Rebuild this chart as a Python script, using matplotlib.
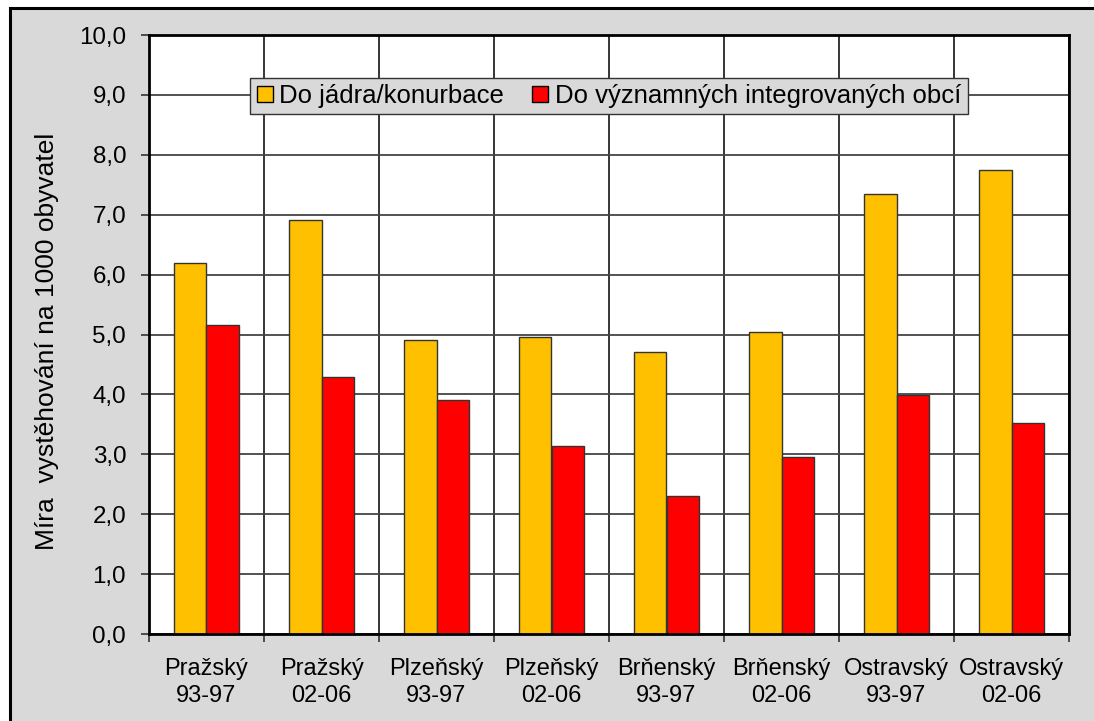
import matplotlib
matplotlib.use("Agg")
import matplotlib.pyplot as plt
from matplotlib.patches import Rectangle
from matplotlib.ticker import FixedLocator, FuncFormatter

categories = ["Pražský\n93-97", "Pražský\n02-06", "Plzeňský\n93-97", "Plzeňský\n02-06",
              "Brňenský\n93-97", "Brňenský\n02-06", "Ostravský\n93-97", "Ostravský\n02-06"]
core_values = [6.19, 6.91, 4.91, 4.96, 4.71, 5.04, 7.35, 7.75]
municip_values = [5.16, 4.29, 3.91, 3.14, 2.30, 2.95, 3.99, 3.52]
series_names = ["Do jádra/konurbace", "Do významných integrovaných obcí"]
y_ticks = [0, 1, 2, 3, 4, 5, 6, 7, 8, 9, 10]

plt.rcParams["font.family"] = ["Liberation Sans", "DejaVu Sans"]

W, H = 1094, 721
fig = plt.figure(figsize=(W / 100, H / 100), dpi=100)
fig.patch.set_facecolor("white")

# framed gray chart area
fig.patches.append(Rectangle((10 / W, -0.05), 1.1, (H - 8) / H + 0.05,
                             transform=fig.transFigure, facecolor="#d9d9d9",
                             edgecolor="black", linewidth=2.2, zorder=-5))

left, right, top, bottom = 149, 1069, 35, 634
ax = fig.add_axes([left / W, 1 - bottom / H, (right - left) / W, (bottom - top) / H])
ax.set_zorder(2)
ax.set_facecolor("white")

n = len(categories)
w = 0.285
xs = [i + 0.5 for i in range(n)]
ax.bar([x - w / 2 for x in xs], core_values, width=w, color="#FFC000",
       edgecolor="#333333", linewidth=1.0, zorder=3, label=series_names[0])
ax.bar([x + w / 2 for x in xs], municip_values, width=w, color="#FF0000",
       edgecolor="#333333", linewidth=1.0, zorder=3, label=series_names[1])

ax.set_xlim(0, n)
ax.set_ylim(0, 10)

ax.yaxis.set_major_locator(FixedLocator(y_ticks))
ax.yaxis.set_major_formatter(FuncFormatter(lambda v, p: f"{v:.1f}".replace(".", ",")))
ax.xaxis.set_major_locator(FixedLocator(list(range(n + 1))))
ax.xaxis.set_major_formatter(FuncFormatter(lambda v, p: ""))
ax.xaxis.set_minor_locator(FixedLocator(xs))
ax.set_xticklabels(categories, minor=True)

ax.tick_params(axis="y", which="major", direction="out", length=6, width=1.2,
               color="#333333", labelsize=17.4, pad=10.5)
ax.tick_params(axis="x", which="major", direction="out", length=6, width=1.2,
               color="#333333")
ax.tick_params(axis="x", which="minor", length=0, labelsize=17, pad=17)
for lbl in ax.get_xticklabels(minor=True):
    lbl.set_linespacing(1.33)

ax.grid(axis="y", color="#444444", linewidth=1.3, zorder=1)
ax.grid(axis="x", which="major", color="black", linewidth=1.1, zorder=1)
ax.set_axisbelow(True)
for s in ax.spines.values():
    s.set_linewidth(2)
    s.set_color("black")
    s.set_zorder(4)

fig.text(47 / W, 1 - 341 / H, "Míra  vystěhování na 1000 obyvatel", rotation=90,
         ha="center", va="center", fontsize=19)

leg = ax.legend(loc="center", bbox_to_anchor=(0.5, 1 - 61 / (bottom - top)),
                ncol=2, fontsize=18.5, frameon=True, fancybox=False,
                handlelength=0.62, handleheight=0.62, handletextpad=0.25,
                columnspacing=1.1, borderpad=0.25, borderaxespad=0)
leg.get_frame().set_facecolor("#d9d9d9")
leg.get_frame().set_edgecolor("#333333")
leg.get_frame().set_linewidth(1.0)
leg.get_frame().set_alpha(1)
leg.set_zorder(5)
for h in leg.legend_handles:
    h.set_edgecolor("black")

fig.savefig("out.png", dpi=100)
